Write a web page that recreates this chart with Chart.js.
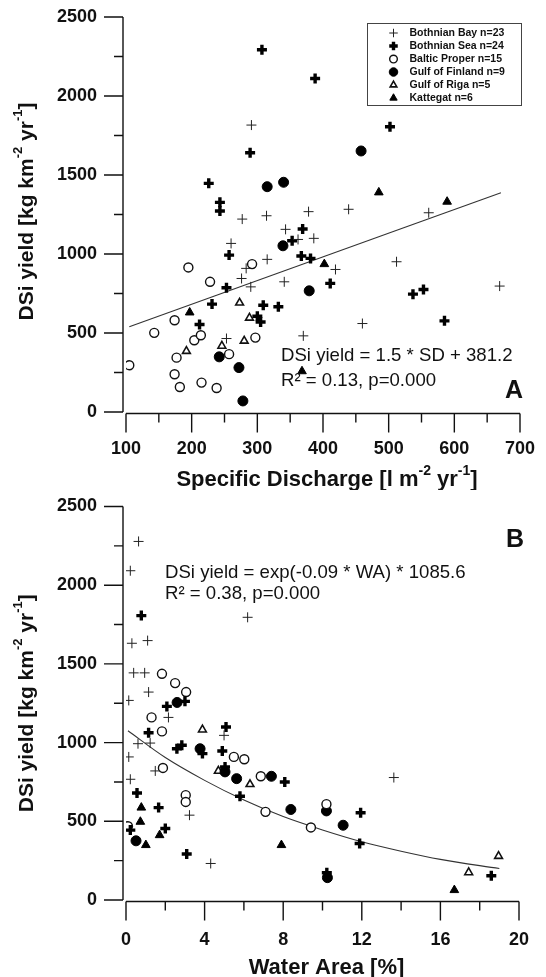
<!DOCTYPE html>
<html>
<head>
<meta charset="utf-8">
<script src="https://cdn.jsdelivr.net/npm/chart.js@4.4.1/dist/chart.umd.min.js"></script>
<style>
  html, body { margin: 0; padding: 0; background: #fff; }
  canvas { display: block; }
</style>
</head>
<body>
<canvas id="chartA" width="546" height="490"></canvas>
<canvas id="chartB" width="546" height="487"></canvas>
<script>
// ---- data ----
var regionLabels = ['Bothnian Bay n=23', 'Bothnian Sea n=24', 'Baltic Proper n=15',
                    'Gulf of Finland n=9', 'Gulf of Riga n=5', 'Kattegat n=6'];

// panel A: specific discharge [l m-2 yr-1] vs DSi yield
var bayA_sd   = [291, 277, 314, 343, 260, 315, 283, 276, 290, 341, 253, 378, 439, 561, 362, 386, 419, 512, 669, 460, 370];
var bayA_dsi  = [1816, 1221, 1242, 1156, 1067, 966, 909, 845, 792, 824, 465, 1268, 1283, 1261, 1092, 1099, 902, 951, 797, 560, 482];
var seaA_sd   = [307, 388, 502, 289, 226, 243, 243, 257, 253, 231, 212, 309, 332, 300, 305, 369, 353, 367, 381, 411, 537, 553, 585];
var seaA_dsi  = [2293, 2111, 1805, 1641, 1447, 1327, 1272, 993, 786, 683, 554, 676, 666, 606, 570, 1158, 1084, 987, 972, 814, 746, 775, 577];
var propA_sd  = [105, 143, 174, 195, 228, 292, 177, 204, 214, 174, 182, 215, 238, 257, 297];
var propA_dsi = [296, 501, 581, 915, 824, 936, 344, 454, 486, 239, 158, 186, 152, 366, 471];
var finA_sd   = [458, 315, 340, 339, 242, 272, 278, 379];
var finA_dsi  = [1652, 1426, 1454, 1052, 349, 281, 70, 767];
var rigaA_sd  = [273, 288, 280, 246, 192];
var rigaA_dsi = [691, 596, 450, 418, 385];
var katA_sd   = [197, 485, 589, 402, 368];
var katA_dsi  = [630, 1390, 1331, 936, 258];
var fitA_sd   = [105, 671];
var fitA_dsi  = [540, 1388];

// panel B: water area [%] vs DSi yield
var bayB_wa   = [0.64, 0.22, 0.30, 1.10, 0.39, 0.95, 1.15, 0.14, 6.19, 2.16, 0.61, 1.23, 0.14, 0.22, 1.49, 4.99, 3.23, 4.31, 13.63];
var bayB_dsi  = [2278, 2092, 1631, 1648, 1443, 1443, 1321, 1268, 1796, 1160, 993, 997, 909, 767, 820, 1046, 539, 232, 778];
var seaB_wa   = [0.78, 2.08, 3.0, 1.15, 2.59, 2.84, 3.89, 5.09, 4.90, 5.04, 5.80, 8.08, 0.56, 1.66, 2.0, 0.22, 3.09, 11.94, 11.89, 10.22, 18.59];
var seaB_dsi  = [1807, 1230, 1262, 1063, 961, 983, 930, 1099, 947, 845, 659, 750, 680, 587, 454, 444, 292, 554, 359, 173, 154];
var propB_wa  = [1.83, 2.50, 3.06, 1.30, 1.83, 1.88, 3.04, 3.04, 5.49, 6.02, 6.86, 7.10, 0.10, 9.41, 10.2];
var propB_dsi = [1437, 1378, 1321, 1160, 1071, 839, 666, 623, 909, 894, 786, 560, 469, 461, 609];
var finB_wa   = [2.6, 3.77, 5.04, 5.63, 7.40, 0.51, 8.39, 10.2, 11.05, 10.25];
var finB_dsi  = [1255, 961, 814, 771, 786, 376, 575, 566, 475, 142];
var rigaB_wa  = [3.89, 4.70, 6.31, 17.44, 18.96];
var rigaB_dsi = [1082, 820, 735, 175, 279];
var katB_wa   = [0.78, 0.73, 1.01, 1.71, 7.91, 16.71];
var katB_dsi  = [587, 497, 349, 412, 349, 63];
var fitB_wa   = [0.1, 2, 4, 6, 8, 10, 12, 14, 16, 19];
var fitB_dsi  = [1075, 905, 760, 635, 530, 445, 370, 310, 258, 200];

var yTitle  = [['DSi yield [kg km', 0], ['-2', 1], [' yr', 0], ['-1', 1], [']', 0]];
var xTitleA = [['Specific Discharge [l m', 0], ['-2', 1], [' yr', 0], ['-1', 1], [']', 0]];
var xTitleB = [['Water Area [%]', 0]];

// ---- styles ----
var FONT = '"Liberation Sans", Arial, sans-serif';
var INK = '#111';

var markers = [
  { pointStyle: 'cross', pointRadius: 5, pointBorderWidth: 1, pointBorderColor: '#222', pointBackgroundColor: '#222' },
  { pointStyle: 'cross', pointRadius: 5, pointBorderWidth: 3.4, pointBorderColor: '#000', pointBackgroundColor: '#000' },
  { pointStyle: 'circle', pointRadius: 4.5, pointBorderWidth: 1.4, pointBorderColor: '#111', pointBackgroundColor: '#fff' },
  { pointStyle: 'circle', pointRadius: 5, pointBorderWidth: 1, pointBorderColor: '#000', pointBackgroundColor: '#000' },
  { pointStyle: 'triangle', pointRadius: 4.5, pointBorderWidth: 1.6, pointBorderColor: '#111', pointBackgroundColor: '#fff' },
  { pointStyle: 'triangle', pointRadius: 5, pointBorderWidth: 1, pointBorderColor: '#000', pointBackgroundColor: '#000' }
];

function toPoints(xs, ys) {
  return xs.map(function (x, i) { return { x: x, y: ys[i] }; });
}

function buildSets(xsList, ysList, fitX, fitY) {
  var sets = xsList.map(function (xs, i) {
    return Object.assign({ label: regionLabels[i], data: toPoints(xs, ysList[i]) }, markers[i]);
  });
  sets.push({
    label: 'fit', data: toPoints(fitX, fitY), showLine: true, pointRadius: 0,
    borderColor: '#333', borderWidth: 1.1, cubicInterpolationMode: 'monotone'
  });
  return sets;
}

// mixed text with superscripts, centred on (cx, cy)
function rich(ctx, parts, cx, cy, size) {
  var fontFor = function (p) { return 'bold ' + (p[1] ? Math.round(size * 0.62) : size) + 'px ' + FONT; };
  var widths = parts.map(function (p) { ctx.font = fontFor(p); return ctx.measureText(p[0]).width; });
  var x = cx - widths.reduce(function (a, b) { return a + b; }, 0) / 2;
  ctx.textAlign = 'left';
  ctx.textBaseline = 'middle';
  parts.forEach(function (p, i) {
    ctx.font = fontFor(p);
    ctx.fillText(p[0], x, cy - (p[1] ? size * 0.42 : 0));
    x += widths[i];
  });
}

// axes with long/short ticks, titles, equations, legend
var frame = {
  id: 'frame',
  afterDraw: function (chart, args, o) {
    var ctx = chart.ctx, xs = chart.scales.x, ys = chart.scales.y;
    var axisX = xs.left - 3;
    var y0 = ys.getPixelForValue(0), yTop = ys.getPixelForValue(ys.max);
    var baseY = y0 + 1.5;
    ctx.save();
    ctx.strokeStyle = INK;
    ctx.lineWidth = 1.4;
    ctx.beginPath();
    ctx.moveTo(axisX, yTop);
    ctx.lineTo(axisX, y0);
    for (var v = 0; v <= ys.max; v += 250) {
      var py = ys.getPixelForValue(v);
      ctx.moveTo(axisX - (v % 500 === 0 ? 19 : 9), py);
      ctx.lineTo(axisX, py);
    }
    ctx.moveTo(xs.left, baseY);
    ctx.lineTo(xs.right, baseY);
    for (var t = xs.min; t <= xs.max + 1e-9; t += o.xMinor) {
      var px = xs.getPixelForValue(t);
      var major = Math.abs(((t - xs.min) / o.xMajor) - Math.round((t - xs.min) / o.xMajor)) < 1e-6;
      ctx.moveTo(px, baseY);
      ctx.lineTo(px, baseY + (major ? 19 : 9));
    }
    ctx.stroke();

    ctx.fillStyle = INK;
    rich(ctx, o.xTitle, (xs.left + xs.right) / 2 + 4, o.xTitleY, 22);
    ctx.save();
    ctx.translate(27, (yTop + y0) / 2 + o.yTitleShift);
    ctx.rotate(-Math.PI / 2);
    rich(ctx, o.yTitle, 0, 0, 21);
    ctx.restore();

    ctx.textAlign = 'left';
    ctx.textBaseline = 'alphabetic';
    ctx.font = '18.6px ' + FONT;
    o.notes.forEach(function (n) { ctx.fillText(n[0], n[1], n[2]); });

    ctx.font = 'bold 25px ' + FONT;
    ctx.textAlign = 'right';
    ctx.fillText(o.letter[0], o.letter[1], o.letter[2]);

    if (o.legend) {
      var L = o.legend;
      ctx.lineWidth = 1;
      ctx.strokeStyle = '#444';
      ctx.strokeRect(L.x, L.y, L.w, L.h);
      ctx.font = 'bold 10.5px ' + FONT;
      ctx.textAlign = 'left';
      ctx.textBaseline = 'middle';
      chart.data.datasets.slice(0, 6).forEach(function (ds, i) {
        var ry = L.y + 9.5 + i * 13;
        ctx.fillStyle = ds.pointBackgroundColor;
        ctx.strokeStyle = ds.pointBorderColor;
        ctx.lineWidth = ds.pointBorderWidth;
        Chart.helpers.drawPoint(ctx, {
          pointStyle: ds.pointStyle, radius: ds.pointRadius * 0.85,
          borderWidth: ds.pointBorderWidth, rotation: 0
        }, L.x + 26, ry);
        ctx.fillStyle = INK;
        ctx.fillText(ds.label, L.x + 42, ry + 0.5);
      });
    }
    ctx.restore();
  }
};

function plainTick(v) { return String(v); }

function makeOptions(xMin, xMax, xStep, padRight, canvasH, bottomPx, topPx, xPad, frameOpts) {
  var tickFont = { family: FONT, size: 18, weight: 'bold' };
  return {
    responsive: false,
    animation: false,
    events: [],
    layout: { padding: { left: 0, right: padRight, top: topPx, bottom: 0 } },
    plugins: { legend: { display: false }, tooltip: { enabled: false }, frame: frameOpts },
    scales: {
      x: {
        type: 'linear', min: xMin, max: xMax,
        grid: { display: false, drawTicks: false }, border: { display: false },
        ticks: { stepSize: xStep, padding: xPad, color: INK, font: tickFont, autoSkip: false, maxRotation: 0, callback: plainTick },
        afterFit: function (s) { s.height = canvasH - bottomPx; s.paddingLeft = 0; s.paddingRight = 0; }
      },
      y: {
        type: 'linear', min: 0, max: 2500,
        grid: { display: false, drawTicks: false }, border: { display: false },
        ticks: { stepSize: 500, padding: 29, color: INK, font: tickFont, autoSkip: false, callback: plainTick },
        afterFit: function (s) { s.width = 126; s.paddingTop = 0; s.paddingBottom = 0; }
      }
    }
  };
}

new Chart(document.getElementById('chartA').getContext('2d'), {
  type: 'scatter',
  data: {
    datasets: buildSets([bayA_sd, seaA_sd, propA_sd, finA_sd, rigaA_sd, katA_sd],
                        [bayA_dsi, seaA_dsi, propA_dsi, finA_dsi, rigaA_dsi, katA_dsi],
                        fitA_sd, fitA_dsi)
  },
  options: makeOptions(100, 700, 100, 26, 490, 412, 17, 26, {
    xMajor: 100, xMinor: 50,
    xTitle: xTitleA, xTitleY: 480, yTitle: yTitle, yTitleShift: -3,
    notes: [['DSi yield = 1.5 * SD + 381.2', 281, 361], ['R\u00b2 = 0.13, p=0.000', 281, 386]],
    letter: ['A', 523, 398],
    legend: { x: 367.5, y: 23.5, w: 154, h: 82 }
  }),
  plugins: [frame]
});

new Chart(document.getElementById('chartB').getContext('2d'), {
  type: 'scatter',
  data: {
    datasets: buildSets([bayB_wa, seaB_wa, propB_wa, finB_wa, rigaB_wa, katB_wa],
                        [bayB_dsi, seaB_dsi, propB_dsi, finB_dsi, rigaB_dsi, katB_dsi],
                        fitB_wa, fitB_dsi)
  },
  options: makeOptions(0, 20, 4, 27, 487, 410, 16.5, 29, {
    xMajor: 4, xMinor: 2,
    xTitle: xTitleB, xTitleY: 478, yTitle: yTitle, yTitleShift: 0,
    notes: [['DSi yield = exp(-0.09 * WA) * 1085.6', 165, 88], ['R\u00b2 = 0.38, p=0.000', 165, 109]],
    letter: ['B', 524, 57],
    legend: null
  }),
  plugins: [frame]
});
</script>
</body>
</html>
